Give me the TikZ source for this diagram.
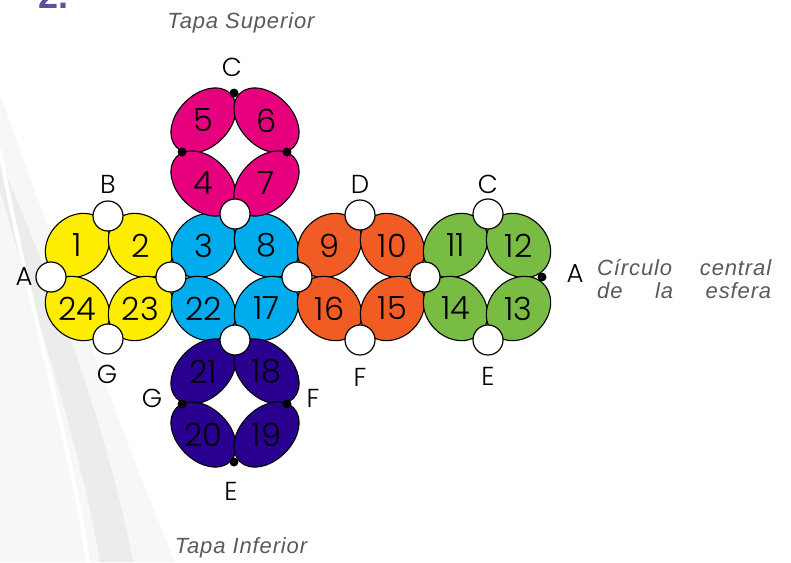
\documentclass[tikz,border=0pt]{standalone}
\usepackage{fontspec}
\IfFontExistsTF{Poppins Light}{\setmainfont{Poppins Light}}{\setmainfont{Poppins}}
\newfontfamily\notefont{Liberation Sans}[LetterSpace=4]
\newfontfamily\headfont{Liberation Sans}
\definecolor{cyel}{RGB}{255,237,0}
\definecolor{ccyan}{RGB}{0,172,236}
\definecolor{cpink}{RGB}{230,0,126}
\definecolor{corange}{RGB}{241,92,36}
\definecolor{cgreen}{RGB}{120,188,68}
\definecolor{cindigo}{RGB}{42,0,145}
\definecolor{ctxt}{RGB}{90,90,90}
\definecolor{cpurple}{RGB}{98,78,160}
\tikzset{
  petal/.style={draw=black, line width=1.1pt},
  num/.style={font=\fontsize{32}{32}\selectfont, inner sep=0pt},
  lab/.style={font=\fontsize{26}{26}\selectfont, inner sep=0pt},
  bead/.style={circle, draw=black, fill=white, line width=1.2pt, minimum size=30pt, inner sep=0pt},
  jdot/.style={circle, fill=black, minimum size=9pt, inner sep=0pt},
  note/.style={font=\notefont\itshape\fontsize{22}{22}\selectfont, text=ctxt, inner sep=0pt}
}
% #1 colour, #2 cx, #3 cy, #4 a, #5 b
\newcommand\petalgroup[5]{%
  \pgfmathsetmacro\gxl{#2-31.5}\pgfmathsetmacro\gxr{#2+31.5}%
  \pgfmathsetmacro\gyt{#3-31.5}\pgfmathsetmacro\gyb{#3+31.5}%
  \filldraw[petal,fill=#1,rotate around={45:(\gxl,\gyt)}] (\gxl,\gyt) ellipse [x radius=#4pt,y radius=#5pt];
  \filldraw[petal,fill=#1,rotate around={-45:(\gxr,\gyt)}] (\gxr,\gyt) ellipse [x radius=#4pt,y radius=#5pt];
  \filldraw[petal,fill=#1,rotate around={-45:(\gxl,\gyb)}] (\gxl,\gyb) ellipse [x radius=#4pt,y radius=#5pt];
  \filldraw[petal,fill=#1,rotate around={45:(\gxr,\gyb)}] (\gxr,\gyb) ellipse [x radius=#4pt,y radius=#5pt];
}
% #1 cx, #2 cy, #3 TL, #4 TR, #5 BL, #6 BR
\newcommand\petalnums[6]{%
  \pgfmathsetmacro\gxl{#1-31.5}\pgfmathsetmacro\gxr{#1+31.5}%
  \pgfmathsetmacro\gyt{#2-31.5}\pgfmathsetmacro\gyb{#2+31.5}%
  \node[num] (n#3) at (\gxl,\gyt) {#3};
  \node[num] (n#4) at (\gxr,\gyt) {#4};
  \node[num] (n#5) at (\gxl,\gyb) {#5};
  \node[num] (n#6) at (\gxr,\gyb) {#6};
}
\begin{document}
\begin{tikzpicture}[x=1pt,y=-1pt]
\useasboundingbox (0,0) rectangle (791,562);
\fill[white] (0,0) rectangle (791,562);
% background decoration
\fill[gray!6] (0,95) .. controls (60,260) and (120,430) .. (175,562) -- (0,562) -- cycle;
\fill[gray!15] (0,190) .. controls (30,300) and (80,440) .. (100,562) -- (133,562) .. controls (110,440) and (60,300) .. (0,160) -- cycle;
\draw[white, line width=4pt] (0,150) .. controls (25,290) and (70,440) .. (88,562);
% heading
\node[anchor=base west, text=cpurple, font=\headfont\bfseries\fontsize{36}{36}\selectfont, inner sep=0pt] (head) at (38,9) {2.};
% petals
\petalgroup{cyel}{109}{277}{35}{29}
\petalgroup{ccyan}{235}{277}{35}{29}
\petalgroup{corange}{361}{277}{35}{29}
\petalgroup{cgreen}{487}{277}{35}{29}
\petalgroup{cpink}{235}{152}{38}{26}
\petalgroup{cindigo}{235}{403}{38}{26}
% numbers
\petalnums{109}{277}{1}{2}{24}{23}
\petalnums{235}{277}{3}{8}{22}{17}
\petalnums{361}{277}{9}{10}{16}{15}
\petalnums{487}{277}{11}{12}{14}{13}
\petalnums{235}{152}{5}{6}{4}{7}
\petalnums{235}{403}{21}{18}{20}{19}
% beads
\node[bead] (bA) at (51,277) {};
\node[bead] (bB) at (108,216) {};
\node[bead] (bG) at (108,339) {};
\node[bead] (bYC) at (171,277) {};
\node[bead] (bCT) at (235,214) {};
\node[bead] (bCB) at (235,340) {};
\node[bead] (bCO) at (297,277) {};
\node[bead] (bD) at (360,215) {};
\node[bead] (bF) at (360,340) {};
\node[bead] (bOG) at (425,277) {};
\node[bead] (bC2) at (488,214) {};
\node[bead] (bE) at (488,340) {};
% small junction dots
\node[jdot] (dC) at (234,93) {};
\node[jdot] (dPL) at (182,152) {};
\node[jdot] (dPR) at (287,152) {};
\node[jdot] (dGL) at (182,404) {};
\node[jdot] (dFR) at (287,404) {};
\node[jdot] (dE) at (234,462) {};
\node[jdot] (dA) at (542,277) {};
% letters
\node[lab] (lC) at (232,67) {C};
\node[lab] (lB) at (108,184) {B};
\node[lab] (lA) at (24,277) {A};
\node[lab] (lG) at (107,374) {G};
\node[lab] (lD) at (360,184) {D};
\node[lab] (lC2) at (488,184) {C};
\node[lab] (lF) at (360,377) {F};
\node[lab] (lE) at (488,376) {E};
\node[lab] (lA2) at (575,274) {A};
\node[lab] (lG2) at (152,398) {G};
\node[lab] (lF2) at (313,398) {F};
\node[lab] (lE2) at (231,491) {E};
% notes
\node[note, anchor=base] (top) at (241,28) {Tapa Superior};
\node[note, anchor=base] (bot) at (241,553) {Tapa Inferior};
\node[note, anchor=base west] (circ1) at (597,275) {\makebox[174pt][s]{Círculo central}};
\node[note, anchor=base west] (circ2) at (597,298) {\makebox[174pt][s]{de la esfera}};
\end{tikzpicture}
\end{document}
